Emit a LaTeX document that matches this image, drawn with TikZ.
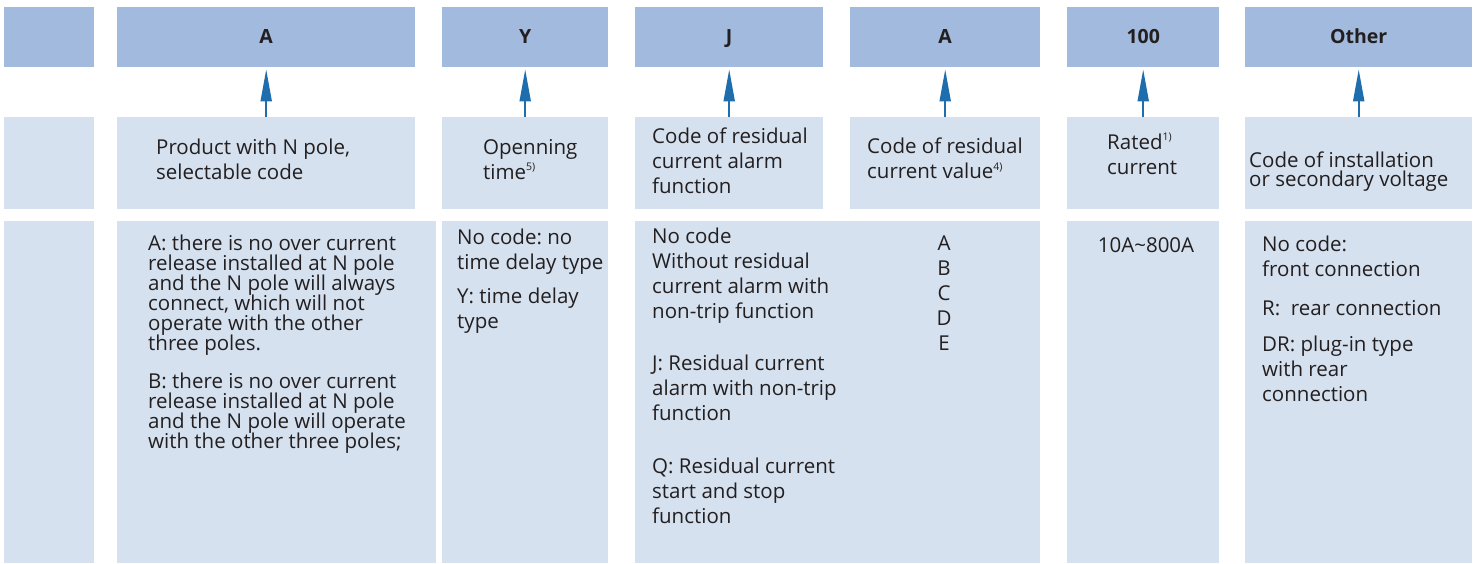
\documentclass[tikz,border=0pt]{standalone}
\usepackage{fontspec}
\setmainfont{Open Sans}
\usetikzlibrary{arrows.meta}
\definecolor{codeblue}{HTML}{A1BADD}
\definecolor{paleblue}{HTML}{D5E1EF}
\definecolor{arrowblue}{HTML}{1E6DAC}
\definecolor{inkdark}{HTML}{231F20}
\newcommand{\supnote}[1]{\raisebox{0.8ex}{\fontsize{10.5}{10.5}\selectfont #1}}
\frenchspacing
\setlength{\lineskiplimit}{-20pt}

\begin{document}
\begin{tikzpicture}[x=1pt, y=-1pt,
    codebox/.style={fill=codeblue, anchor=north west, inner sep=0pt, text=inkdark,
        text depth=0pt, font=\bfseries\fontsize{19.5}{19.5}\selectfont},
    infobox/.style={fill=paleblue, anchor=north west, inner sep=0pt},
    dims/.style 2 args={minimum width=#1pt, minimum height=#2pt},
    txt/.style={anchor=north west, inner sep=0pt, align=left, text=inkdark,
        font=\fontsize{20.5}{25}\selectfont},
    flow/.style={draw=arrowblue, line width=2pt, shorten >=2pt,
        -{Triangle[length=32pt, width=11pt]}}]
    \useasboundingbox (0,0) rectangle (1482,563);

    % code row
    \node[codebox, dims={90}{60}] (h0) at (4,7) {};
    \node[codebox, dims={298}{60}] (hA) at (117,7) {\raisebox{1.5pt}{A}};
    \node[codebox, dims={166}{60}] (hY) at (442,7) {\raisebox{1.5pt}{Y}};
    \node[codebox, dims={188}{60}] (hJ) at (635,7) {\raisebox{1.5pt}{J}};
    \node[codebox, dims={190}{60}] (hR) at (850,7) {\raisebox{1.5pt}{A}};
    \node[codebox, dims={152}{60}] (hI) at (1067,7) {\raisebox{1.5pt}{100}};
    \node[codebox, dims={227}{60}] (hO) at (1245,7) {\raisebox{1.5pt}{Other}};

    % meaning row
    \node[infobox, dims={90}{92}] (m0) at (4,117) {};
    \node[infobox, dims={298}{92}] (mA) at (117,117) {};
    \node[infobox, dims={166}{92}] (mY) at (442,117) {};
    \node[infobox, dims={188}{92}] (mJ) at (635,117) {};
    \node[infobox, dims={190}{92}] (mR) at (850,117) {};
    \node[infobox, dims={152}{92}] (mI) at (1067,117) {};
    \node[infobox, dims={227}{92}] (mO) at (1245,117) {};

    % option row
    \node[infobox, dims={90}{342}] (b0) at (4,221) {};
    \node[infobox, dims={319}{342}] (bA) at (117,221) {};
    \node[infobox, dims={166}{342}] (bY) at (442,221) {};
    \node[infobox, dims={405}{342}] (bJ) at (635,221) {};
    \node[infobox, dims={152}{342}] (bI) at (1067,221) {};
    \node[infobox, dims={227}{342}] (bO) at (1245,221) {};

    \draw[flow] (mA.north) -- (hA.south);
    \draw[flow] (mY.north) -- (hY.south);
    \draw[flow] (mJ.north) -- (hJ.south);
    \draw[flow] (mR.north) -- (hR.south);
    \draw[flow] (mI.north) -- (hI.south);
    \draw[flow] (mO.north) -- (hO.south);

    \node[txt] (tA) at (156,139) {Product with N pole,\\selectable code};
    \node[txt] (tY) at (483,139) {Openning\\time\supnote{5)}};
    \node[txt] (tJ) at (652,128) {Code of residual\\current alarm\\function};
    \node[txt] (tR) at (867,138) {Code of residual\\current value\supnote{4)}};
    \node[txt] (tI) at (1107,133) {Rated\supnote{1)}\\current};
    \node[txt, font=\fontsize{20.5}{19}\selectfont] (tO) at (1249,152)
        {Code of installation\\or secondary voltage};

    \node[txt, font=\fontsize{20.5}{20}\selectfont] (dA) at (148,235)
        {A: there is no over current\\release installed at N pole\\and the N pole will always\\
         connect, which will not\\operate with the other\\three poles.\\[18pt]
         B: there is no over current\\release installed at N pole\\and the N pole will operate\\
         with the other three poles;};
    \node[txt] (dY) at (457,229) {No code: no\\time delay type\\[9pt]Y: time delay\\type};
    \node[txt] (dJ) at (652,228)
        {No code\\Without residual\\current alarm with\\non-trip function\\[27pt]
         J: Residual current\\alarm with non-trip\\function\\[28pt]
         Q: Residual current\\start and stop\\function};
    \node[txt, anchor=north, align=center] (dR) at (944,236) {A\\B\\C\\D\\E};
    \node[txt, anchor=base] (dI) at (1146,252) {10A\textasciitilde800A};
    \node[txt] (dO) at (1262,236)
        {No code:\\front connection\\[14pt]R:\ \ rear connection\\[11pt]
         DR: plug-in type\\with rear\\connection};
\end{tikzpicture}
\end{document}
